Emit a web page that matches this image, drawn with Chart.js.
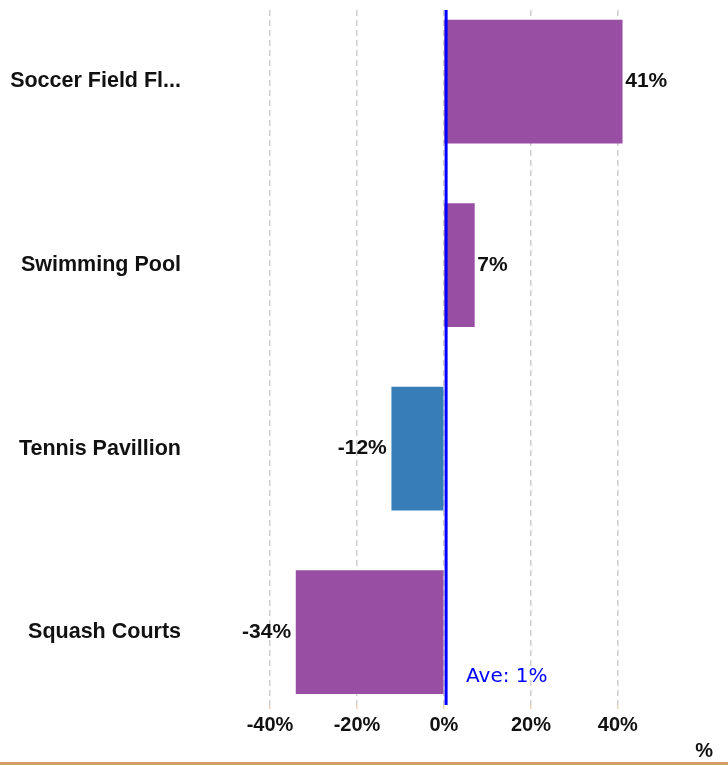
<!DOCTYPE html>
<html>
<head>
<meta charset="utf-8">
<script src="https://cdn.jsdelivr.net/npm/chart.js@4"></script>
<style>
  html, body { margin: 0; padding: 0; background: #fff; }
  #wrap { width: 728px; height: 765px; }
</style>
</head>
<body>
<div id="wrap"><canvas id="chart" width="728" height="765"></canvas></div>
<script>
// データ
const categories = ['Soccer Field Fl...', 'Swimming Pool', 'Tennis Pavillion', 'Squash Courts'];
const values = [41, 7, -12, -34];
const barColors = ['#984EA3', '#984EA3', '#377EB8', '#984EA3'];
const averageValue = 0.5;
const averageLabel = 'Ave: 1%';
const xTicks = [-40, -20, 0, 20, 40];
const unitLabel = '%';

const FONT = '"Liberation Sans", Arial, sans-serif';

// 値ラベル・平均線・下部の装飾
const overlayPlugin = {
  id: 'overlay',
  afterDatasetsDraw(chart) {
    const ctx = chart.ctx;
    const xs = chart.scales.x;
    const area = chart.chartArea;
    const meta = chart.getDatasetMeta(0);

    ctx.save();
    // 値ラベル
    ctx.font = 'bold 21px ' + FONT;
    ctx.fillStyle = '#111';
    ctx.textBaseline = 'middle';
    meta.data.forEach((bar, i) => {
      const v = values[i];
      if (v >= 0) {
        ctx.textAlign = 'left';
        ctx.fillText(v + '%', bar.x + 3, bar.y);
      } else {
        ctx.textAlign = 'right';
        ctx.fillText(v + '%', bar.x - 5, bar.y);
      }
    });

    // 平均線
    const ax = xs.getPixelForValue(averageValue);
    ctx.strokeStyle = '#0000FF';
    ctx.lineWidth = 3;
    ctx.beginPath();
    ctx.moveTo(ax, area.top);
    ctx.lineTo(ax, area.bottom);
    ctx.stroke();

    ctx.font = '20px "DejaVu Sans", Tahoma, sans-serif';
    ctx.fillStyle = '#0000FF';
    ctx.textAlign = 'left';
    ctx.fillText(averageLabel, ax + 20, 677);

    // 単位と下線
    ctx.font = 'bold 20px ' + FONT;
    ctx.fillStyle = '#111';
    ctx.textAlign = 'right';
    ctx.fillText(unitLabel, 713, 751);

    ctx.fillStyle = '#D39D66';
    ctx.fillRect(0, 762, chart.width, 3);
    ctx.restore();
  }
};

new Chart(document.getElementById('chart'), {
  type: 'bar',
  data: {
    datasets: [{
      data: values.map((v, i) => ({ x: v, y: i })),
      backgroundColor: barColors,
      borderWidth: 0,
      barThickness: 123
    }]
  },
  options: {
    indexAxis: 'y',
    responsive: false,
    animation: false,
    layout: { padding: { top: 10, right: 31, bottom: 20, left: 0 } },
    plugins: {
      legend: { display: false },
      tooltip: { enabled: false }
    },
    scales: {
      x: {
        type: 'linear',
        min: -58.4,
        max: 58.2,
        afterFit: (s) => { s.height = 40; s.paddingLeft = 0; s.paddingRight = 0; },
        afterBuildTicks: (s) => { s.ticks = xTicks.map(v => ({ value: v })); },
        border: { display: false, dash: [6, 4] },
        grid: {
          color: '#cfcfcf',
          lineWidth: 1.5,
          tickLength: 4,
          tickColor: '#ead6b8'
        },
        ticks: {
          padding: 4,
          color: '#111',
          font: { family: FONT, size: 20, weight: 'bold' },
          callback: (v) => v + '%'
        }
      },
      y: {
        // カテゴリ位置を細かく合わせるため線形軸を使う
        type: 'linear',
        reverse: true,
        offset: false,
        bounds: 'data',
        grace: 0,
        min: -0.39,
        max: 3.397,
        afterFit: (s) => { s.width = 190; s.paddingTop = 0; s.paddingBottom = 0; },
        afterBuildTicks: (s) => { s.ticks = categories.map((_, i) => ({ value: i })); },
        border: { display: false },
        grid: { display: false, drawTicks: false, offset: false },
        ticks: {
          padding: 9,
          autoSkip: false,
          color: '#111',
          font: { family: FONT, size: 21.5, weight: 'bold' },
          callback: (v) => categories[v] ?? ''
        }
      }
    }
  },
  plugins: [overlayPlugin]
});
</script>
</body>
</html>
